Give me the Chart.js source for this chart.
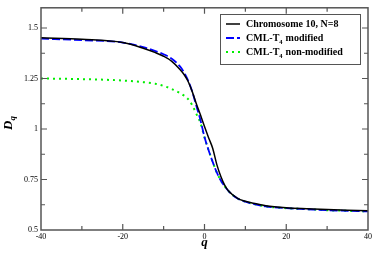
<!DOCTYPE html>
<html>
<head>
<meta charset="utf-8">
<script src="https://cdn.jsdelivr.net/npm/chart.js@4"></script>
<style>
  html, body { margin: 0; padding: 0; background: #fff; }
  #wrap { width: 374px; height: 254px; position: relative; }
</style>
</head>
<body>
<div id="wrap"><canvas id="dqChart"></canvas></div>
<script>
// q values shared by the three curves
const qValues = [-40, -30, -20, -15, -12, -10, -8, -6, -5, -4, -3, -2, -1, 0, 1, 2, 3, 4, 5, 6, 8, 10, 12, 15, 20, 25, 30, 35, 40];

const chromosome10 = [1.452, 1.444, 1.428, 1.4, 1.378, 1.36, 1.335, 1.295, 1.27, 1.235, 1.185, 1.125, 1.07, 1.012, 0.957, 0.905, 0.825, 0.765, 0.72, 0.69, 0.658, 0.642, 0.632, 0.62, 0.61, 0.605, 0.601, 0.598, 0.595];
const cmlModified = [1.447, 1.44, 1.428, 1.405, 1.386, 1.37, 1.348, 1.31, 1.28, 1.24, 1.185, 1.115, 1.045, 0.96, 0.895, 0.837, 0.785, 0.745, 0.715, 0.69, 0.657, 0.64, 0.629, 0.617, 0.608, 0.603, 0.598, 0.595, 0.592];
const cmlNonModified = [1.25, 1.247, 1.24, 1.232, 1.224, 1.213, 1.198, 1.178, 1.165, 1.148, 1.118, 1.075, 1.03, 0.958, 0.895, 0.837, 0.785, 0.745, 0.715, 0.69, 0.657, 0.64, 0.629, 0.617, 0.608, 0.603, 0.598, 0.595, 0.592];

const seriesLabels = ['Chromosome 10, N=8', 'CML-T\u2084 modified', 'CML-T\u2084 non-modified'];

const xTicks = [-40, -20, 0, 20, 40];
const xMinorTicks = [-30, -10, 10, 30];
const yTicks = [0.5, 0.75, 1, 1.25, 1.5];
const yMinorTicks = [0.625, 0.875, 1.125, 1.375];

const serif = "'Liberation Serif', 'Times New Roman', serif";

function toPoints(vals) {
  return qValues.map((q, i) => ({ x: q, y: vals[i] }));
}

// frame, inward ticks, axis titles and legend box (xmgrace look)
const gracePlugin = {
  id: 'grace',
  afterDraw(chart) {
    const ctx = chart.ctx;
    const a = chart.chartArea;
    const xs = chart.scales.x, ys = chart.scales.y;
    ctx.save();
    ctx.strokeStyle = '#555';
    ctx.lineWidth = 1.5;
    ctx.strokeRect(a.left, a.top, a.right - a.left, a.bottom - a.top);

    ctx.lineWidth = 1.2;
    ctx.beginPath();
    const tickX = (vals, len) => vals.forEach(v => {
      const px = xs.getPixelForValue(v);
      ctx.moveTo(px, a.bottom); ctx.lineTo(px, a.bottom - len);
      ctx.moveTo(px, a.top); ctx.lineTo(px, a.top + len);
    });
    const tickY = (vals, len) => vals.forEach(v => {
      const py = ys.getPixelForValue(v);
      ctx.moveTo(a.left, py); ctx.lineTo(a.left + len, py);
      ctx.moveTo(a.right, py); ctx.lineTo(a.right - len, py);
    });
    tickX(xTicks.slice(1, -1), 6);
    tickX(xMinorTicks, 4);
    tickY(yTicks.slice(1), 6);
    tickY(yMinorTicks, 4);
    ctx.stroke();

    // axis titles
    ctx.fillStyle = '#000';
    ctx.font = 'bold italic 13px ' + serif;
    ctx.textAlign = 'center';
    ctx.textBaseline = 'alphabetic';
    ctx.fillText('q', (a.left + a.right) / 2, 246);

    ctx.save();
    ctx.translate(12, 124);
    ctx.rotate(-Math.PI / 2);
    ctx.textAlign = 'left';
    ctx.fillText('D', -6, 0);
    const dw = ctx.measureText('D').width;
    ctx.font = 'bold italic 9px ' + serif;
    ctx.fillText('q', -6 + dw, 3);
    ctx.restore();

    // legend
    const bx = 220, by = 14, bw = 140, bh = 50;
    ctx.fillStyle = '#fff';
    ctx.fillRect(bx, by, bw, bh);
    ctx.strokeStyle = '#555';
    ctx.lineWidth = 1;
    ctx.strokeRect(bx + 0.5, by + 0.5, bw, bh);
    chart.data.datasets.forEach((ds, i) => {
      const rowY = 24 + i * 14;
      ctx.strokeStyle = ds.borderColor;
      ctx.lineWidth = ds.borderWidth;
      ctx.setLineDash(ds.borderDash || []);
      ctx.beginPath();
      ctx.moveTo(226, rowY);
      ctx.lineTo(240, rowY);
      ctx.stroke();
      ctx.setLineDash([]);
      ctx.fillStyle = '#000';
      ctx.textAlign = 'left';
      ctx.textBaseline = 'middle';
      let tx = 246;
      const parts = ds.label.split('\u2084');
      parts.forEach((p, k) => {
        ctx.font = 'bold 10px ' + serif;
        ctx.fillText(p, tx, rowY);
        tx += ctx.measureText(p).width;
        if (k < parts.length - 1) {
          ctx.font = 'bold 6.5px ' + serif;
          ctx.fillText('4', tx, rowY + 4);
          tx += ctx.measureText('4').width + 0.5;
        }
      });
    });
    ctx.restore();
  }
};

const ctx = document.getElementById('dqChart').getContext('2d');
new Chart(ctx, {
  type: 'line',
  data: {
    datasets: [
      {
        label: seriesLabels[0],
        data: toPoints(chromosome10),
        borderColor: '#000000',
        borderWidth: 1.5,
        pointRadius: 0,
        cubicInterpolationMode: 'monotone'
      },
      {
        label: seriesLabels[1],
        data: toPoints(cmlModified),
        borderColor: '#0000ff',
        borderWidth: 1.8,
        borderDash: [8, 3],
        pointRadius: 0,
        cubicInterpolationMode: 'monotone'
      },
      {
        label: seriesLabels[2],
        data: toPoints(cmlNonModified),
        borderColor: '#00ee00',
        borderWidth: 2,
        borderDash: [2, 4],
        pointRadius: 0,
        cubicInterpolationMode: 'monotone'
      }
    ]
  },
  options: {
    responsive: true,
    maintainAspectRatio: false,
    animation: false,
    layout: { padding: { left: 0, top: 1, right: 5, bottom: 0 } },
    plugins: {
      legend: { display: false },
      tooltip: { enabled: false }
    },
    scales: {
      x: {
        type: 'linear',
        min: -40,
        max: 40,
        grid: { display: false, drawTicks: false },
        border: { display: false },
        afterBuildTicks: s => { s.ticks = xTicks.map(v => ({ value: v })); },
        afterFit: s => { s.height = 24; },
        ticks: {
          padding: 2,
          maxRotation: 0,
          autoSkip: false,
          color: '#000',
          font: { family: serif, size: 8 },
          callback: v => String(v)
        }
      },
      y: {
        type: 'linear',
        min: 0.5,
        max: 1.6,
        grid: { display: false, drawTicks: false },
        border: { display: false },
        afterBuildTicks: s => { s.ticks = yTicks.map(v => ({ value: v })); },
        afterFit: s => { s.width = 41; },
        ticks: {
          padding: 3,
          autoSkip: false,
          color: '#000',
          font: { family: serif, size: 8 },
          callback: v => String(v)
        }
      }
    }
  },
  plugins: [gracePlugin]
});
</script>
</body>
</html>
